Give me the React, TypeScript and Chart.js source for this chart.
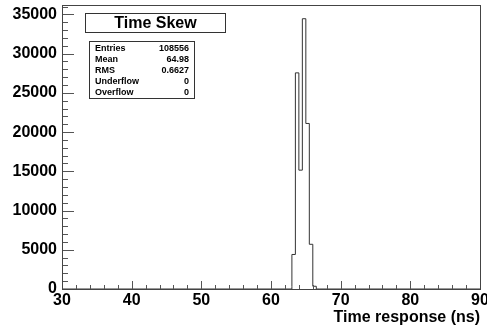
import React, { useEffect, useRef } from "react";
import { Chart, registerables } from "chart.js";

Chart.register(...registerables);

// Histogram: bin edges (ns) and counts per bin
const binEdges = [63, 63.5, 64, 64.5, 65, 65.5, 66, 66.5, 67];
const binCounts = [300, 4400, 27550, 15150, 34450, 21100, 5700, 350];

const xRange = [30, 90];
const yRange = [0, 36200];
const xTickLabels = [30, 40, 50, 60, 70, 80, 90];
const yTickLabels = [0, 5000, 10000, 15000, 20000, 25000, 30000, 35000];
const xMinorStep = 2;
const yMinorStep = 1000;

const histTitle = "Time Skew";
const xAxisTitle = "Time response (ns)";
const statNames = ["Entries", "Mean", "RMS", "Underflow", "Overflow"];
const statValues = ["108556", "64.98", "0.6627", "0", "0"];

const FONT = '"Liberation Sans", Arial, Helvetica, sans-serif';

const rootPlugin = {
  id: "rootDecor",
  afterDraw(chart: any) {
    const ctx = chart.ctx as CanvasRenderingContext2D;
    const ca = chart.chartArea;
    const xs = chart.scales.x;
    const ys = chart.scales.y;
    ctx.save();
    // tick marks (inward)
    ctx.strokeStyle = "#555";
    ctx.lineWidth = 1;
    ctx.beginPath();
    for (let v = yRange[0]; v <= yRange[1]; v += yMinorStep) {
      const y = Math.round(ys.getPixelForValue(v)) + 0.5;
      const major = v % 5000 === 0;
      const len = major ? 12 : 6;
      ctx.moveTo(ca.left, y);
      ctx.lineTo(ca.left + len, y);
    }
    for (let v = xRange[0]; v <= xRange[1]; v += xMinorStep) {
      const x = Math.round(xs.getPixelForValue(v)) + 0.5;
      const major = v % 10 === 0;
      const len = major ? 8 : 4;
      ctx.moveTo(x, ca.bottom);
      ctx.lineTo(x, ca.bottom - len);
    }
    ctx.stroke();
    // frame
    ctx.strokeStyle = "#444";
    ctx.strokeRect(
      Math.round(ca.left) + 0.5,
      Math.round(ca.top) + 0.5,
      Math.round(ca.right - ca.left),
      Math.round(ca.bottom - ca.top)
    );
    // title box
    ctx.fillStyle = "#fff";
    ctx.fillRect(85.5, 13.5, 140, 19);
    ctx.strokeStyle = "#333";
    ctx.strokeRect(85.5, 13.5, 140, 19);
    ctx.fillStyle = "#000";
    ctx.font = `bold 16px ${FONT}`;
    ctx.textAlign = "center";
    ctx.textBaseline = "middle";
    ctx.fillText(histTitle, 155.5, 23.5);
    // stats box
    ctx.fillStyle = "#fff";
    ctx.fillRect(89.5, 41.5, 105, 57);
    ctx.strokeStyle = "#333";
    ctx.strokeRect(89.5, 41.5, 105, 57);
    ctx.fillStyle = "#000";
    ctx.font = `bold 9px ${FONT}`;
    statNames.forEach((n, i) => {
      const y = 48.5 + i * 11;
      ctx.textAlign = "left";
      ctx.fillText(n, 95, y);
      ctx.textAlign = "right";
      ctx.fillText(statValues[i], 189, y);
    });
    ctx.restore();
  },
};

export default function App() {
  const ref = useRef<HTMLCanvasElement | null>(null);
  useEffect(() => {
    document.body.style.margin = "0";
    const pts: { x: number; y: number }[] = [];
    pts.push({ x: xRange[0], y: 0 });
    pts.push({ x: binEdges[0], y: 0 });
    binCounts.forEach((c, i) => pts.push({ x: binEdges[i], y: c }));
    pts.push({ x: binEdges[binEdges.length - 1], y: 0 });
    pts.push({ x: xRange[1], y: 0 });

    const chart = new Chart(ref.current as HTMLCanvasElement, {
      type: "line",
      data: {
        datasets: [
          {
            data: pts,
            stepped: "after",
            borderColor: "#333",
            borderWidth: 1,
            pointRadius: 0,
            fill: false,
          },
        ],
      },
      options: {
        responsive: false,
        animation: false,
        devicePixelRatio: 1,
        layout: { padding: { left: 0, right: 7, top: 5, bottom: 0 } },
        plugins: { legend: { display: false }, tooltip: { enabled: false } },
        scales: {
          x: {
            type: "linear",
            min: xRange[0],
            max: xRange[1],
            grid: { display: false, drawTicks: false },
            border: { display: false },
            afterBuildTicks: (s: any) => {
              s.ticks = xTickLabels.map((v) => ({ value: v }));
            },
            afterFit: (s: any) => {
              s.height = 38;
              s.paddingLeft = 0;
              s.paddingRight = 0;
            },
            ticks: {
              maxRotation: 0,
              autoSkip: false,
              padding: 2,
              color: "#000",
              font: { family: FONT, size: 16, weight: "bold" },
            },
            title: {
              display: true,
              text: xAxisTitle,
              align: "end",
              color: "#000",
              padding: { top: 0, bottom: 0 },
              font: { family: FONT, size: 16, weight: "bold" },
            },
          },
          y: {
            type: "linear",
            min: yRange[0],
            max: yRange[1],
            grid: { display: false, drawTicks: false },
            border: { display: false },
            afterBuildTicks: (s: any) => {
              s.ticks = yTickLabels.map((v) => ({ value: v }));
            },
            afterFit: (s: any) => {
              s.width = 62;
              s.paddingTop = 0;
              s.paddingBottom = 0;
            },
            ticks: {
              autoSkip: false,
              padding: 5,
              color: "#000",
              font: { family: FONT, size: 16, weight: "bold" },
              callback: (v: any) => String(v),
            },
          },
        },
      },
      plugins: [rootPlugin],
    });
    return () => chart.destroy();
  }, []);
  return (
    <div style={{ position: "fixed", left: 0, top: 0, width: 487, height: 327, background: "#fff" }}>
      <canvas ref={ref} width={487} height={327} style={{ width: 487, height: 327 }} />
    </div>
  );
}
